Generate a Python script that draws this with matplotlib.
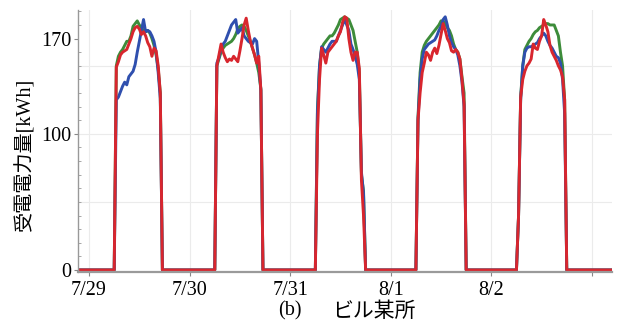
import numpy as np
import matplotlib
matplotlib.use("Agg")
import matplotlib.pyplot as plt
from matplotlib.ticker import MultipleLocator

# --- datos:受電電力量 cada 30 min (6:00 - 18:00) para cada día ---
horas = [6.0, 6.5, 7.0, 7.5, 8.0, 8.5, 9.0, 9.5, 10.0, 10.5, 11.0, 11.5, 12.0,
         12.5, 13.0, 13.5, 14.0, 14.5, 15.0, 15.5, 16.0, 16.5, 17.0, 17.5, 18.0]
dias = ["7/29", "7/30", "7/31", "8/1", "8/2"]

verde_729 = [0, 150, 157, 160, 162, 165, 168, 168, 172, 179, 181, 183, 180, 178, 176, 175, 176, 174, 170, 165, 158, 148, 130, 0, 0]
verde_730 = [0, 150, 155, 160, 163, 165, 166, 167, 168, 170, 173, 177, 179, 180, 179, 176, 172, 168, 163, 158, 152, 145, 133, 0, 0]
verde_731 = [0, 118, 150, 163, 166, 168, 170, 172, 172, 174, 177, 180, 184, 185, 186, 185, 184, 180, 176, 168, 160, 145, 70, 58, 0]
verde_801 = [0, 112, 145, 160, 165, 168, 170, 172, 174, 176, 178, 180, 183, 183, 181, 178, 176, 172, 166, 162, 160, 155, 142, 130, 0]
verde_802 = [0, 40, 127, 150, 162, 165, 168, 170, 173, 175, 176, 178, 179, 180, 181, 181, 180, 180, 180, 176, 172, 160, 150, 125, 0]

azul_729 = [0, 125, 127, 131, 135, 138, 136, 142, 144, 146, 151, 160, 168, 176, 184, 175, 176, 175, 172, 168, 160, 145, 126, 0, 0]
azul_730 = [0, 152, 156, 163, 166, 168, 172, 176, 180, 182, 184, 174, 176, 178, 172, 170, 168, 167, 166, 170, 168, 152, 132, 0, 0]
azul_731 = [0, 115, 150, 164, 162, 160, 163, 166, 168, 168, 168, 172, 176, 180, 184, 180, 176, 166, 162, 157, 151, 140, 72, 56, 0]
azul_801 = [0, 110, 140, 155, 162, 164, 166, 167, 168, 169, 172, 176, 179, 184, 186, 180, 172, 167, 164, 162, 158, 150, 138, 120, 0]
azul_802 = [0, 40, 125, 150, 160, 163, 164, 164, 165, 166, 167, 170, 172, 174, 172, 168, 165, 163, 160, 157, 156, 152, 140, 115, 0]

rojo_729 = [0, 149, 153, 158, 160, 161, 162, 166, 170, 175, 178, 179, 177, 173, 175, 172, 167, 164, 157, 163, 161, 150, 130, 0, 0]
rojo_730 = [0, 150, 158, 166, 160, 156, 153, 155, 154, 157, 155, 153, 161, 170, 180, 185, 176, 168, 163, 158, 152, 157, 132, 0, 0]
rojo_731 = [0, 100, 140, 163, 158, 152, 160, 162, 164, 166, 168, 172, 175, 182, 186, 185, 170, 160, 154, 160, 160, 148, 66, 40, 0]
rojo_801 = [0, 110, 130, 145, 152, 160, 158, 154, 160, 163, 159, 165, 173, 181, 176, 170, 167, 161, 160, 162, 160, 155, 140, 122, 0]
rojo_802 = [0, 40, 127, 140, 146, 150, 152, 155, 166, 163, 162, 168, 172, 184, 180, 175, 165, 160, 157, 154, 150, 147, 142, 125, 0]

inicio, fin = -0.1, 5.2


def serie(*por_dia):
    # une los días en un solo eje continuo (días desde 7/29 0:00)
    xs = [inicio]
    ys = [0]
    h = np.array(horas) / 24.0
    for d, vals in enumerate(por_dia):
        xs.extend(d + h)
        ys.extend(vals)
    xs.append(fin)
    ys.append(0)
    return xs, ys


plt.rcParams['font.family'] = ['Liberation Serif', 'Noto Sans CJK JP']

fig = plt.figure(figsize=(6.17, 3.25), dpi=100)
ax = fig.add_axes([78 / 617, 52.7 / 325, 534 / 617, 262.3 / 325])

# rejilla
for d in range(6):
    ax.axvline(d, color='#ebebeb', lw=0.8, zorder=0)
for v in [50, 100, 150]:
    ax.axhline(v, color='#ebebeb', lw=0.8, zorder=0)

x, y = serie(verde_729, verde_730, verde_731, verde_801, verde_802)
ax.plot(x, y, color='#3d8c3a', lw=2.1, solid_joinstyle='round')
x, y = serie(azul_729, azul_730, azul_731, azul_801, azul_802)
ax.plot(x, y, color='#2f4fae', lw=2.1, solid_joinstyle='round')
x, y = serie(rojo_729, rojo_730, rojo_731, rojo_801, rojo_802)
ax.plot(x, y, color='#d8262e', lw=2.1, solid_joinstyle='round')

ax.set_xlim(-0.11, 5.2)
ax.set_ylim(-1.7, 191)

ax.set_xticks(range(6))
ax.set_xticklabels(dias + [""])
ax.set_yticks([0, 100, 170])
ax.yaxis.set_minor_locator(MultipleLocator(10))

ax.tick_params(axis='both', which='major', labelsize=14.5, color='#888888', length=3, width=0.8)
ax.tick_params(axis='x', pad=3)
ax.tick_params(axis='y', pad=1.5)
ax.tick_params(axis='y', which='minor', direction='in', length=2, color='#999999', width=0.6)

for lado in ['top', 'right']:
    ax.spines[lado].set_visible(False)
ax.spines['left'].set_color('#999999')
ax.spines['left'].set_linewidth(1.0)
ax.spines['bottom'].set_color('#9a9a9a')
ax.spines['bottom'].set_linewidth(1.6)

fig.text(25 / 617, 1 - 154 / 325, "受電電力量[kWh]", rotation=90, fontsize=14.5,
         ha='center', va='center')
fig.text(278 / 617, 1 - 311 / 325, "(b)", fontsize=14.5, ha='left', va='center')
fig.text(332 / 617, 1 - 312 / 325, "ビル某所", fontsize=15, ha='left', va='center')

fig.savefig("out.png", dpi=100)
